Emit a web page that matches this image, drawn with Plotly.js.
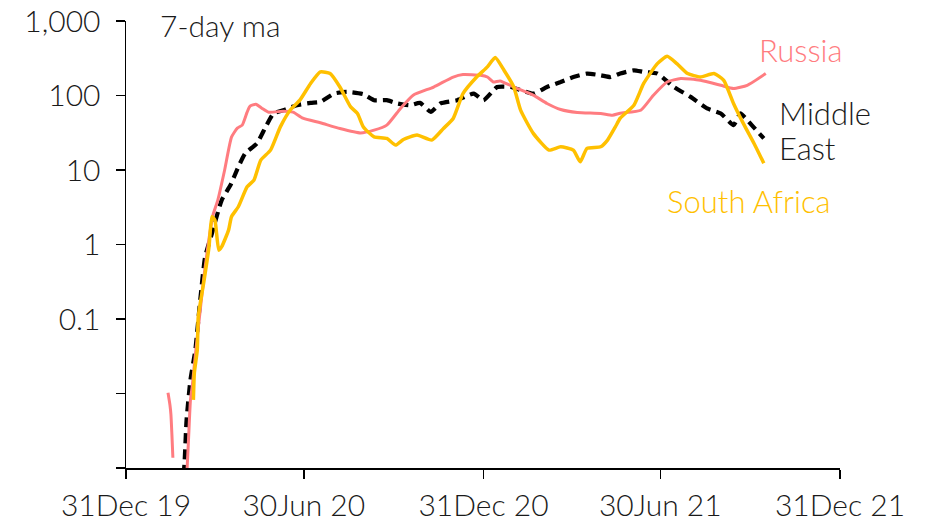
<!DOCTYPE html>
<html>
<head>
<meta charset="utf-8">
<script src="https://cdn.plot.ly/plotly-3.0.1.min.js"></script>
<style>html,body{margin:0;padding:0;background:#fff;}#chart{width:930px;height:531px;}</style>
</head>
<body>
<div id="chart"></div>
<script>
// Daily new cases per million, 7-day moving average
const russiaDates = ['2020-02-12','2020-02-14','2020-02-15','2020-02-16','2020-02-17','2020-02-18',
  '2020-03-02','2020-03-04','2020-03-06','2020-03-08','2020-03-11','2020-03-16','2020-03-20','2020-03-24','2020-03-29',
  '2020-04-03','2020-04-10','2020-04-17','2020-04-23','2020-04-28','2020-05-03','2020-05-06','2020-05-12','2020-05-18',
  '2020-05-25','2020-06-09','2020-06-19','2020-06-29','2020-07-17','2020-08-06','2020-08-27','2020-09-10','2020-09-23',
  '2020-10-07','2020-10-20','2020-11-10','2020-11-30','2020-12-10','2020-12-28','2021-01-04','2021-01-10','2021-01-17',
  '2021-01-31','2021-02-20','2021-03-06','2021-03-20','2021-04-06','2021-04-30','2021-05-12','2021-05-20','2021-06-10',
  '2021-06-23','2021-07-07','2021-07-21','2021-08-10','2021-08-31','2021-09-13','2021-09-27','2021-10-16'];
const russiaValues = [0.0102,0.0070,0.0052,0.0028,0.00137,null,
  0.0007,0.0024,0.0082,0.0131,0.033,0.132,0.39,0.98,2.48,
  3.95,10,27.6,36.5,40,59.7,71.9,76.4,67.6,
  59.7,61.6,59.7,49.6,43,36.1,31.5,34.3,40,
  67,101,130,177,191,187,177,152,157,
  130,101,78.2,64.9,59.2,57.4,54.5,57.9,63.5,
  101,152,169,160,137,124,137,197];

const meDates = ['2020-02-28','2020-02-29','2020-03-02','2020-03-06','2020-03-11','2020-03-16','2020-03-21','2020-03-28',
  '2020-04-07','2020-04-16','2020-04-24','2020-05-01','2020-05-13','2020-05-22','2020-05-30','2020-06-09','2020-06-23',
  '2020-07-07','2020-07-17','2020-07-31','2020-08-13','2020-08-30','2020-09-10','2020-09-23','2020-10-04','2020-10-17',
  '2020-10-27','2020-11-07','2020-11-17','2020-12-04','2020-12-21','2020-12-31','2021-01-14','2021-01-28','2021-02-20',
  '2021-03-06','2021-03-20','2021-04-02','2021-04-16','2021-04-30','2021-05-10','2021-05-20','2021-06-03','2021-06-13',
  '2021-06-27','2021-07-14','2021-07-31','2021-08-17','2021-08-31','2021-09-13','2021-09-20','2021-09-27','2021-10-14'];
const meValues = [0.0008,0.0012,0.0044,0.0153,0.0385,0.18,0.68,1.41,
  3.95,6.28,11,16.7,22.7,37.9,57.4,63.5,74.1,
  79.6,82,106,112,104,86.5,86.5,78.2,74.1,
  79.6,60.3,78.2,86.5,106,86.5,130,130,106,
  130,152,177,197,187,177,197,218,207,
  197,130,95.8,67,57.4,40,57.4,46.7,26.5];

const saDates = ['2020-03-09','2020-03-10','2020-03-13','2020-03-14','2020-03-20','2020-03-25','2020-03-28','2020-03-31',
  '2020-04-04','2020-04-07','2020-04-14','2020-04-17','2020-04-24','2020-05-03','2020-05-10','2020-05-17','2020-05-27',
  '2020-06-06','2020-06-16','2020-06-26','2020-07-07','2020-07-17','2020-07-27','2020-08-06','2020-08-17','2020-08-24',
  '2020-08-30','2020-09-10','2020-09-23','2020-10-02','2020-10-10','2020-10-24','2020-11-08','2020-11-20','2020-11-30',
  '2020-12-10','2020-12-24','2021-01-04','2021-01-12','2021-01-21','2021-01-31','2021-02-07','2021-02-20','2021-03-08',
  '2021-03-20','2021-04-02','2021-04-09','2021-04-16','2021-04-30','2021-05-07','2021-05-15','2021-05-20','2021-06-03',
  '2021-06-13','2021-06-27','2021-07-07','2021-07-17','2021-07-28','2021-08-10','2021-08-24','2021-09-03','2021-09-13',
  '2021-09-23','2021-10-04','2021-10-14'];
const saValues = [0.0082,0.019,0.0385,0.108,0.334,0.935,2.36,2.13,
  0.84,0.935,1.56,2.36,3.21,5.95,7.32,13.6,18.5,
  37.9,63.5,86.5,145,207,197,130,70.3,57.4,
  37.9,27.9,26.5,21.6,25.7,29.4,25.2,36.1,49.2,
  106,177,242,323,218,130,63.5,31,18.5,
  20.5,18.5,12.9,19.5,20.5,25.2,37.9,49.6,74.1,
  145,268,336,268,197,177,197,160,78.2,
  42.2,22.7,12.3];

const xTickVals = ['2019-12-31','2020-06-30','2020-12-31','2021-06-30','2021-12-31'];
const xTickText = ['31Dec 19','30Jun 20','31Dec 20','30Jun 21','31Dec 21'];
const yTickVals = [0.001,0.01,0.1,1,10,100,1000];
const yTickText = ['','','0.1','1','10','100','1,000'];

const FONT = 'Lato, "Noto Sans", sans-serif';
const TXT = '#1a1a1a';

const traces = [
  {x: meDates, y: meValues, name: 'Middle East', mode: 'lines', connectgaps: false,
   line: {color: '#000000', width: 4.2, dash: '10px,6px', shape: 'spline', smoothing: 0.5}},
  {x: russiaDates, y: russiaValues, name: 'Russia', mode: 'lines', connectgaps: false,
   line: {color: '#FF7C80', width: 3, shape: 'spline', smoothing: 0.5}},
  {x: saDates, y: saValues, name: 'South Africa', mode: 'lines', connectgaps: false,
   line: {color: '#FFC000', width: 3.5, shape: 'spline', smoothing: 0.5}}
];

const layout = {
  width: 930, height: 531,
  margin: {l: 126, r: 90, t: 21, b: 63, pad: 0},
  paper_bgcolor: '#ffffff', plot_bgcolor: '#ffffff',
  showlegend: false,
  font: {family: FONT, color: TXT, size: 30, weight: 300},
  xaxis: {
    type: 'date', range: ['2019-12-31', '2021-12-31'],
    tickmode: 'array', tickvals: xTickVals, ticktext: xTickText,
    showgrid: false, zeroline: false, showline: true, linecolor: '#000', linewidth: 1.5,
    ticks: 'outside', ticklen: 9, tickwidth: 1.5, tickcolor: '#000',
    tickfont: {family: FONT, size: 30, color: TXT, weight: 300}, ticklabelstandoff: 1
  },
  yaxis: {
    type: 'log', range: [-3, 3],
    tickmode: 'array', tickvals: yTickVals, ticktext: yTickText,
    showgrid: false, zeroline: false, showline: true, linecolor: '#000', linewidth: 1.5,
    ticks: 'outside', ticklen: 9, tickwidth: 1.5, tickcolor: '#000',
    tickfont: {family: FONT, size: 30, color: TXT, weight: 300}, ticklabelstandoff: 9
  },
  annotations: [
    {text: '7-day ma', xref: 'paper', yref: 'paper', x: 0.045, y: 0.99, xanchor: 'left', yanchor: 'middle',
     showarrow: false, font: {family: FONT, size: 30, color: TXT, weight: 300}},
    {text: 'Russia', xref: 'paper', yref: 'paper', x: 0.884, y: 0.935, xanchor: 'left', yanchor: 'middle',
     showarrow: false, font: {family: FONT, size: 31, color: '#FF7C80', weight: 300}},
    {text: 'Middle', xref: 'paper', yref: 'paper', x: 0.912, y: 0.794, xanchor: 'left', yanchor: 'middle',
     showarrow: false, font: {family: FONT, size: 31, color: TXT, weight: 300}},
    {text: 'East', xref: 'paper', yref: 'paper', x: 0.912, y: 0.716, xanchor: 'left', yanchor: 'middle',
     showarrow: false, font: {family: FONT, size: 31, color: TXT, weight: 300}},
    {text: 'South Africa', xref: 'paper', yref: 'paper', x: 0.755, y: 0.597, xanchor: 'left', yanchor: 'middle',
     showarrow: false, font: {family: FONT, size: 31, color: '#FFC000', weight: 300}}
  ]
};

Plotly.newPlot('chart', traces, layout, {staticPlot: true, displayModeBar: false});
</script>
</body>
</html>
